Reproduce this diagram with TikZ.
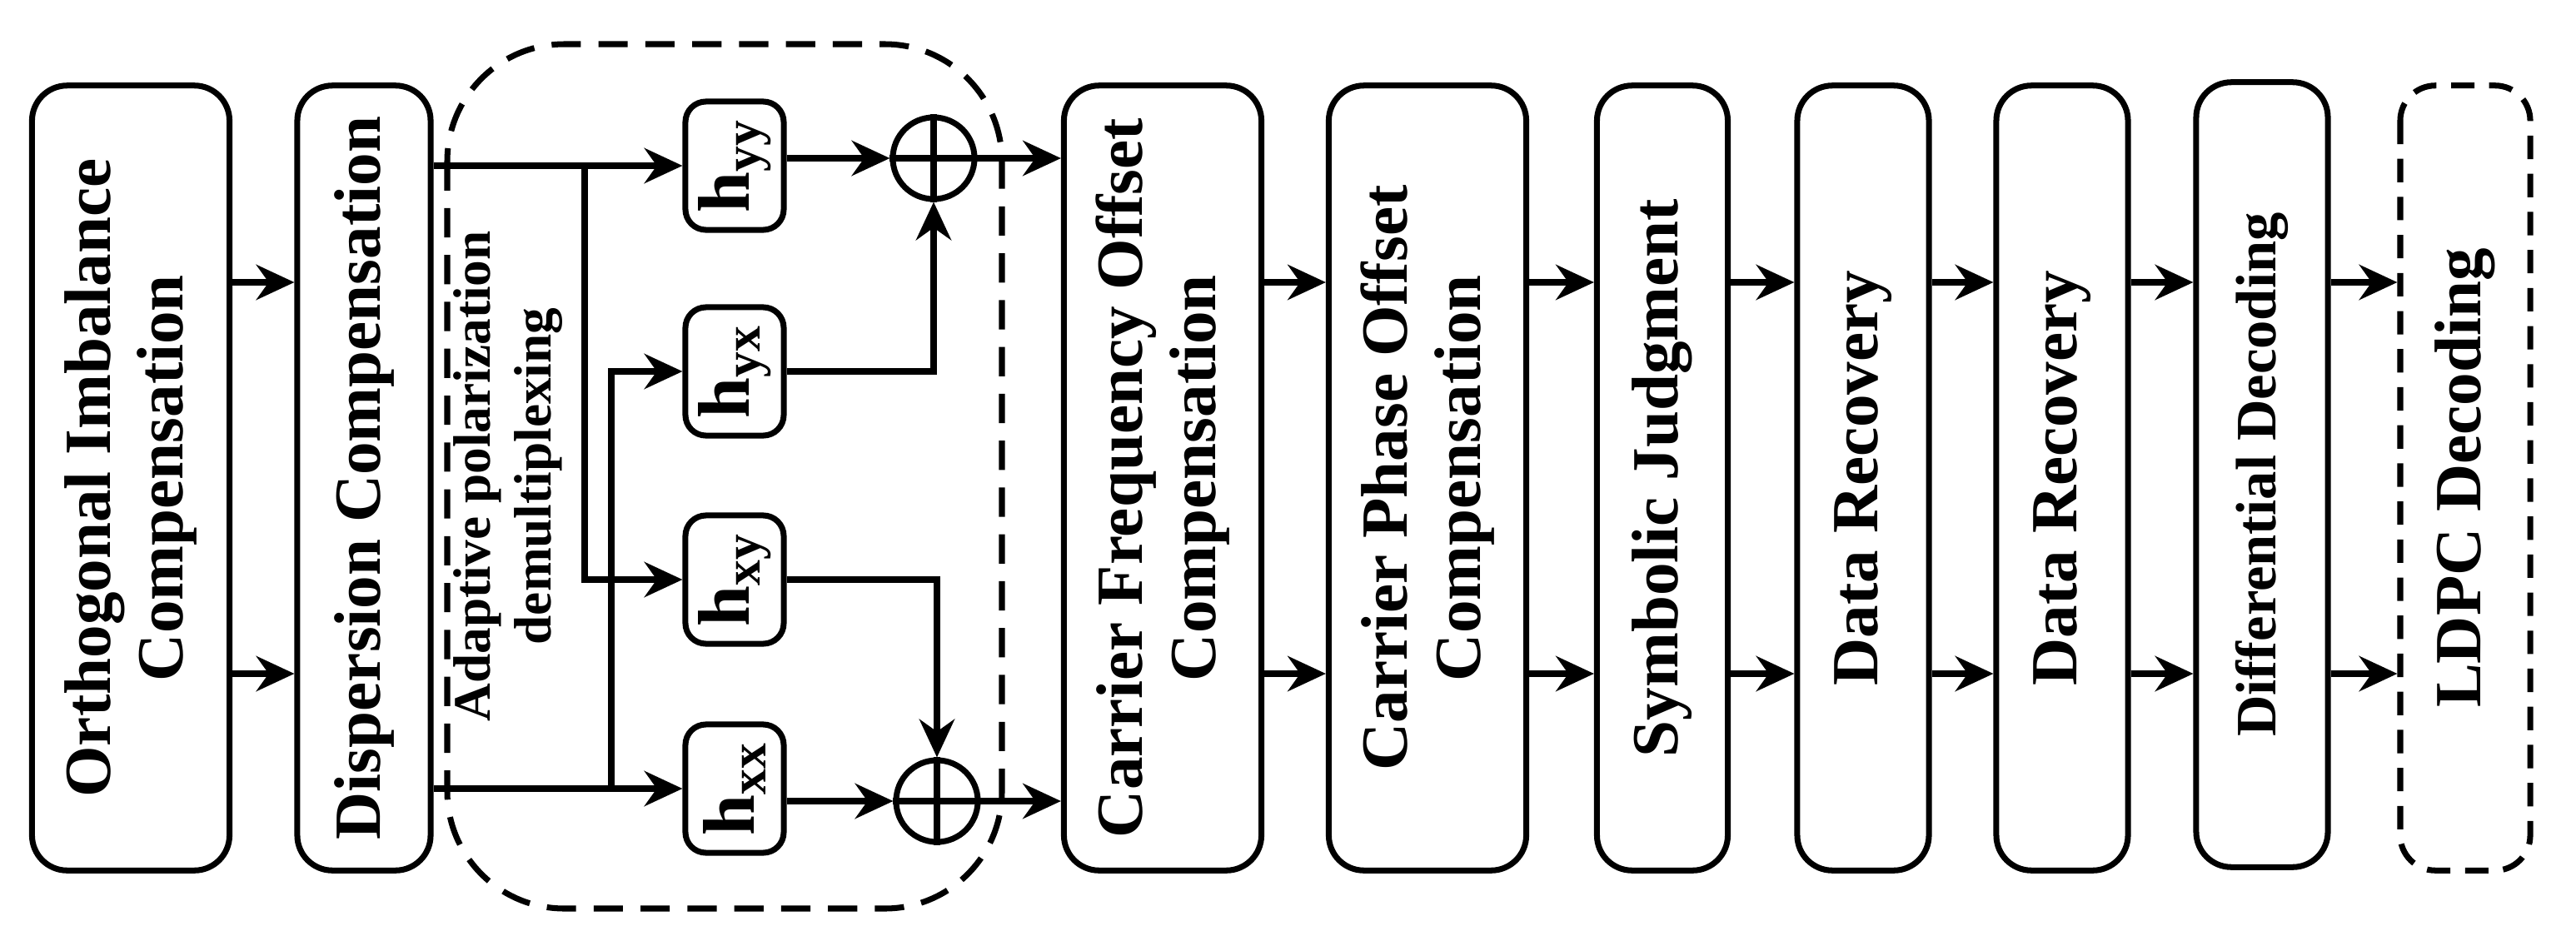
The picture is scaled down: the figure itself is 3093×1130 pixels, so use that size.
\documentclass[tikz,border=0pt]{standalone}
\usepackage{fontspec}
\setmainfont{Liberation Serif}
\usetikzlibrary{arrows.meta,calc}
\begin{document}
\begin{tikzpicture}[x=0.01cm,y=-0.01cm,
  lw/.style={line width=2pt},
  box/.style={lw,draw,rounded corners=12pt,rotate=90,align=center,inner sep=0pt,
    minimum width=9.42cm,font=\fontsize{22.5}{25}\selectfont\bfseries},
  hb/.style={lw,draw,rounded corners=7pt,rotate=90,inner sep=0pt,
    minimum width=1.54cm,minimum height=1.18cm,font=\fontsize{25}{26}\selectfont\bfseries},
  sum/.style={lw,draw,circle,minimum size=0.98cm,inner sep=0pt},
  arr/.style={lw,-{Stealth[length=13pt,width=12pt]}},
  ln/.style={lw}]
\useasboundingbox (0,0) rectangle (3093,1130);
\draw[lw,dashed,dash pattern=on 10pt off 6pt,rounded corners=40pt] (537,53) rectangle (1203,1091);
\node[box,minimum height=2.37cm] (oic) at (157,574) {Orthogonal Imbalance\\Compensation};
\node[box,minimum height=1.60cm] (disp) at (437,574) {Dispersion Compensation};
\node[rotate=90,align=center,font=\fontsize{18}{21}\selectfont\bfseries] (apd) at (610,572) {Adaptive polarization\\demultiplexing};
\node[hb] (hyy) at (882,199) {h$_{\mathbf{yy}}$};
\node[hb] (hyx) at (882,446) {h$_{\mathbf{yx}}$};
\node[hb] (hxy) at (882,696) {h$_{\mathbf{xy}}$};
\node[hb] (hxx) at (882,947) {h$_{\mathbf{xx}}$};
\node[sum] (s1) at (1121,190) {};
\node[sum] (s2) at (1125,962) {};
\draw[lw] (s1.north)--(s1.south) (s1.west)--(s1.east);
\draw[lw] (s2.north)--(s2.south) (s2.west)--(s2.east);
\node[box,minimum height=2.37cm] (cfo) at (1396,574) {Carrier Frequency Offset\\Compensation};
\node[box,minimum height=2.37cm] (cpo) at (1714,574) {Carrier Phase Offset\\Compensation};
\node[box,minimum height=1.57cm] (sj) at (1996,574) {Symbolic Judgment};
\node[box,minimum height=1.58cm] (dr1) at (2237,574) {Data Recovery};
\node[box,minimum height=1.58cm] (dr2) at (2476,574) {Data Recovery};
\node[box,minimum height=1.58cm,font=\fontsize{19.5}{22}\selectfont\bfseries] (dd) at (2716,570) {Differential Decoding};
\node[box,minimum height=1.56cm,dashed,dash pattern=on 8pt off 5pt] (ldpc) at (2960,574) {LDPC Decoding};
% main chain
\foreach \a/\b in {oic/disp,cfo/cpo,cpo/sj,sj/dr1,dr1/dr2,dr2/dd,dd/ldpc}{
  \draw[arr] (\a.south |- 0,339) -- (\b.north |- 0,339);
  \draw[arr] (\a.south |- 0,809) -- (\b.north |- 0,809);
}
% MIMO
\coordinate (b1) at (702,199);
\coordinate (b2) at (734,947);
\draw[arr] (disp.south |- hyy) -- (hyy.north);
\draw[arr] (disp.south |- hxx) -- (hxx.north);
\draw[arr] (b1) -- (b1 |- hxy) -- (hxy.north);
\draw[arr] (b2) -- (b2 |- hyx) -- (hyx.north);
\draw[arr] (hyy.south |- s1) -- (s1.west);
\draw[arr] (hxx.south |- s2) -- (s2.west);
\draw[arr] (hyx.south) -- (s1 |- hyx) -- (s1.south);
\draw[arr] (hxy.south) -- (s2 |- hxy) -- (s2.north);
\draw[arr] (s1.east) -- (cfo.north |- s1);
\draw[arr] (s2.east) -- (cfo.north |- s2);
\end{tikzpicture}
\end{document}
